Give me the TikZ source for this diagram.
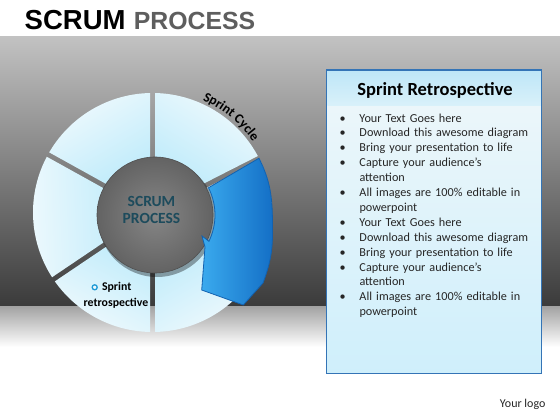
\documentclass[tikz,border=0pt]{standalone}
\usepackage{fontspec}
\setmainfont{Carlito}
\newfontfamily\headfont{Liberation Sans}
\usetikzlibrary{calc,positioning,decorations.text}

\definecolor{bandTop}{HTML}{C2C2C2}
\definecolor{bandMid}{HTML}{8C8C8C}
\definecolor{bandLow}{HTML}{3A3A3A}
\definecolor{floorTop}{HTML}{A4A4A4}
\definecolor{segLight}{HTML}{EEF9FD}
\definecolor{segDeep}{HTML}{B4E8FA}
\definecolor{hubIn}{HTML}{868686}
\definecolor{hubOut}{HTML}{636363}
\definecolor{hubInk}{HTML}{1D4B5C}
\definecolor{arrLight}{HTML}{3AAAEE}
\definecolor{arrDeep}{HTML}{146FC6}
\definecolor{arrEdge}{HTML}{1262B0}
\definecolor{dotBlue}{HTML}{1E9AD6}
\definecolor{panelEdge}{HTML}{3474B6}
\definecolor{panelTop}{HTML}{EFF7FA}
\definecolor{panelLow}{HTML}{CFEFFB}
\definecolor{headTop}{HTML}{BEE6F7}
\definecolor{headLow}{HTML}{D9F1FA}
\definecolor{bodyInk}{HTML}{262626}
\definecolor{procGray}{HTML}{5E5E5E}

\newcommand\bulitem{\par\hangindent=20pt\hangafter=1\noindent\makebox[20pt][l]{\textbullet}}

\begin{document}
\begin{tikzpicture}[x=1pt,y=1pt,
  segpart/.style={top color=segLight, bottom color=segDeep},
  hubtext/.style={text=hubInk, align=center, inner sep=0,
    font=\bfseries\fontsize{15.5}{17}\selectfont},
  arrowband/.style={left color=arrLight, right color=arrDeep, draw=arrEdge, line width=0.8},
  retlabel/.style={inner sep=0, text=black, font=\bfseries\fontsize{11.8}{11.8}\selectfont},
  retdot/.style={circle, draw=dotBlue, fill=segLight, line width=1.3, minimum size=5pt, inner sep=0},
  panelbox/.style={draw=panelEdge, line width=1.2, top color=panelTop, bottom color=panelLow},
  panelhead/.style={inner sep=0, text=black, font=\bfseries\fontsize{18.5}{18.5}\selectfont},
  bullist/.style={inner sep=0, text=bodyInk, text width=195pt, align=left,
    font=\fontsize{12.2}{14.9}\selectfont},
  titletext/.style={inner sep=0, font=\headfont\bfseries\fontsize{27.5}{27.5}\selectfont}]

  \useasboundingbox (0,0) rectangle (560,420);

  % backdrop
  \fill[white] (0,0) rectangle (560,420);
  \shade[top color=bandTop, middle color=bandMid, bottom color=bandLow] (0,113) rectangle (560,383);
  \shade[top color=floorTop, bottom color=white] (0,73) rectangle (560,113);

  % heading
  \node[titletext, anchor=base west] (scrumword) at (24.5,390) {SCRUM};
  \node[titletext, text=procGray, font=\headfont\bfseries\fontsize{24.8}{24.8}\selectfont,
    base right=8pt of scrumword] (procword) {PROCESS};

  \coordinate (C) at (152.5,207.5);
  \coordinate (H) at (155,205);

  % ring parts
  \foreach \a/\b in {27/90,90/151,151/214,214/270,270/330,330/387}{
    \pgfmathsetmacro\m{(\a+\b)/2-90}
    \begin{scope}
      \clip ($(C)+(\a+90:2.5)$) -- ++(\a:140) -- ($(C)+(\b-90:2.5)+(\b:140)$)
        -- ($(C)+(\b-90:2.5)$) -- cycle;
      \shade[segpart, shading angle=\m] (C) -- ($(C)+(\a:119.5)$)
        arc[start angle=\a, end angle=\b, radius=119.5] -- cycle;
    \end{scope}
  }

  % hub
  \fill[black, opacity=0.35] ($(H)+(2,-3)$) circle (59);
  \shade[inner color=hubIn, outer color=hubOut] (H) circle (58);
  \draw[hubOut!80!black, line width=0.6] (H) circle (58);
  \node[hubtext] (hubname) at (151.5,210) {SCRUM\\PROCESS};

  % sprint arrow
  \shadedraw[arrowband] ($(H)+(27:60)$) -- ($(C)+(27:119.5)$)
    to[out=-63, in=90] (272.5,187) to[out=-90, in=70] (263,137)
    -- (243.3,115) -- (201.7,130) -- (205,173) -- (202,184)
    -- ($(H)+(-26:60)$) arc[start angle=-26, end angle=27, radius=60] -- cycle;

  \path[decorate, decoration={text along path, text align=left,
    text={|\bfseries\fontsize{13.5}{13.5}\selectfont|Sprint Cycle}}]
    ($(C)+(66:123)$) arc[start angle=66, end angle=15, radius=123];

  \node[retlabel] (sprint) at (116.7,132.7) {Sprint};
  \node[retlabel] (retro) at (116,116.7) {retrospective};
  \node[retdot, left=4pt of sprint] (sprintdot) {};

  % side panel
  \shadedraw[panelbox] (326.7,46.7) rectangle (541.7,350);
  \shade[top color=headTop, bottom color=headLow] (327.3,314) rectangle (541.1,349.4);
  \draw[panelEdge, line width=1.2] (326.7,46.7) rectangle (541.7,350);
  \node[panelhead] (paneltitle) at (435,330) {Sprint Retrospective};
  \node[bullist, anchor=north west] (points) at (339.3,313) {%
    \bulitem Your Text Goes here
    \bulitem Download this awesome diagram
    \bulitem Bring your presentation to life
    \bulitem Capture your audience’s\newline attention
    \bulitem All images are 100\% editable in\newline powerpoint
    \bulitem Your Text Goes here
    \bulitem Download this awesome diagram
    \bulitem Bring your presentation to life
    \bulitem Capture your audience’s\newline attention
    \bulitem All images are 100\% editable in\newline powerpoint\par};

  \node[inner sep=0, text=bodyInk, font=\fontsize{12}{12}\selectfont] (logo) at (522.7,16) {Your logo};

\end{tikzpicture}
\end{document}
